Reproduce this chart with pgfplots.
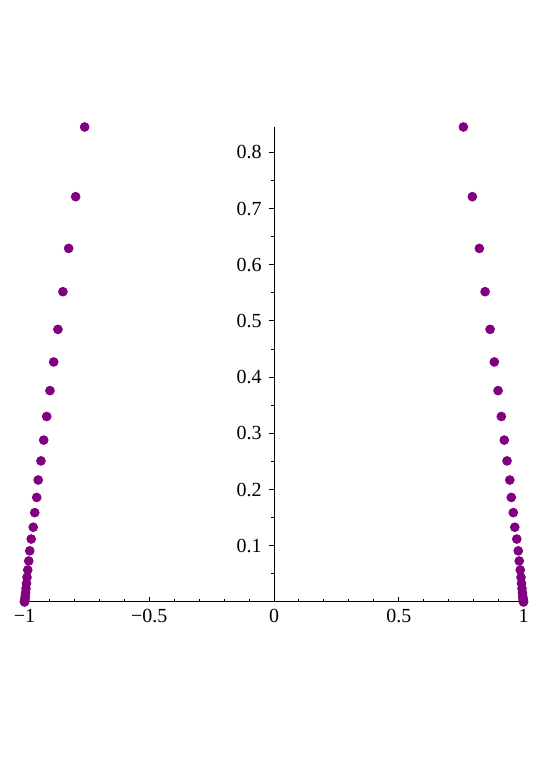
\documentclass[border=0pt]{standalone}
\usepackage{fontspec}
\setmainfont{Liberation Serif}
\usepackage{pgfplots}
\pgfplotsset{compat=1.18}
\definecolor{maplepurple}{RGB}{128,0,128}
\begin{document}
\begin{tikzpicture}
\begin{axis}[
    scale only axis,
    width=249.5pt, height=237.5pt,
    xmin=-1, xmax=1, ymin=0, ymax=0.845,
    axis x line=bottom, axis y line=center,
    axis line style={-, line width=0.5pt},
    hide obscured x ticks=false,
    xtick={-1,-0.5,0,0.5,1},
    xticklabels={−1,−0.5,0,0.5,1},
    minor x tick num=4,
    ytick={0.1,0.2,0.3,0.4,0.5,0.6,0.7,0.8},
    yticklabels={0.1,0.2,0.3,0.4,0.5,0.6,0.7,0.8},
    minor ytick={0.05,0.15,0.25,0.35,0.45,0.55,0.65,0.75},
    xtick align=inside, ytick align=outside,
    major tick length=2.6pt, minor tick length=1.6pt,
    tick style={black, line width=0.5pt},
    tick label style={font=\fontsize{10}{12}\selectfont},
    clip=false,
]
\addplot[only marks, mark=*, mark size=2.2pt, color=maplepurple, mark options={draw=maplepurple, fill=maplepurple}] coordinates {
(0.759,0.845) (0.795,0.721) (0.823,0.629) (0.846,0.552) (0.866,0.485)
(0.883,0.427) (0.898,0.376) (0.911,0.330) (0.923,0.288) (0.934,0.251)
(0.945,0.217) (0.951,0.186) (0.959,0.159) (0.965,0.133) (0.973,0.112)
(0.979,0.091) (0.983,0.073) (0.987,0.057) (0.990,0.044) (0.992,0.033)
(0.994,0.024) (0.996,0.016) (0.997,0.010) (0.998,0.006) (0.999,0.003)
(1.000,0.001) (1.000,0.000)
};
\addplot[only marks, mark=*, mark size=2.2pt, color=maplepurple, mark options={draw=maplepurple, fill=maplepurple}] coordinates {
(-0.759,0.845) (-0.795,0.721) (-0.823,0.629) (-0.846,0.552) (-0.866,0.485)
(-0.883,0.427) (-0.898,0.376) (-0.911,0.330) (-0.923,0.288) (-0.934,0.251)
(-0.945,0.217) (-0.951,0.186) (-0.959,0.159) (-0.965,0.133) (-0.973,0.112)
(-0.979,0.091) (-0.983,0.073) (-0.987,0.057) (-0.990,0.044) (-0.992,0.033)
(-0.994,0.024) (-0.996,0.016) (-0.997,0.010) (-0.998,0.006) (-0.999,0.003)
(-1.000,0.001) (-1.000,0.000)
};
\end{axis}
\path (-12.25pt,-81pt) rectangle (257.75pt,301pt);
\end{tikzpicture}
\end{document}
